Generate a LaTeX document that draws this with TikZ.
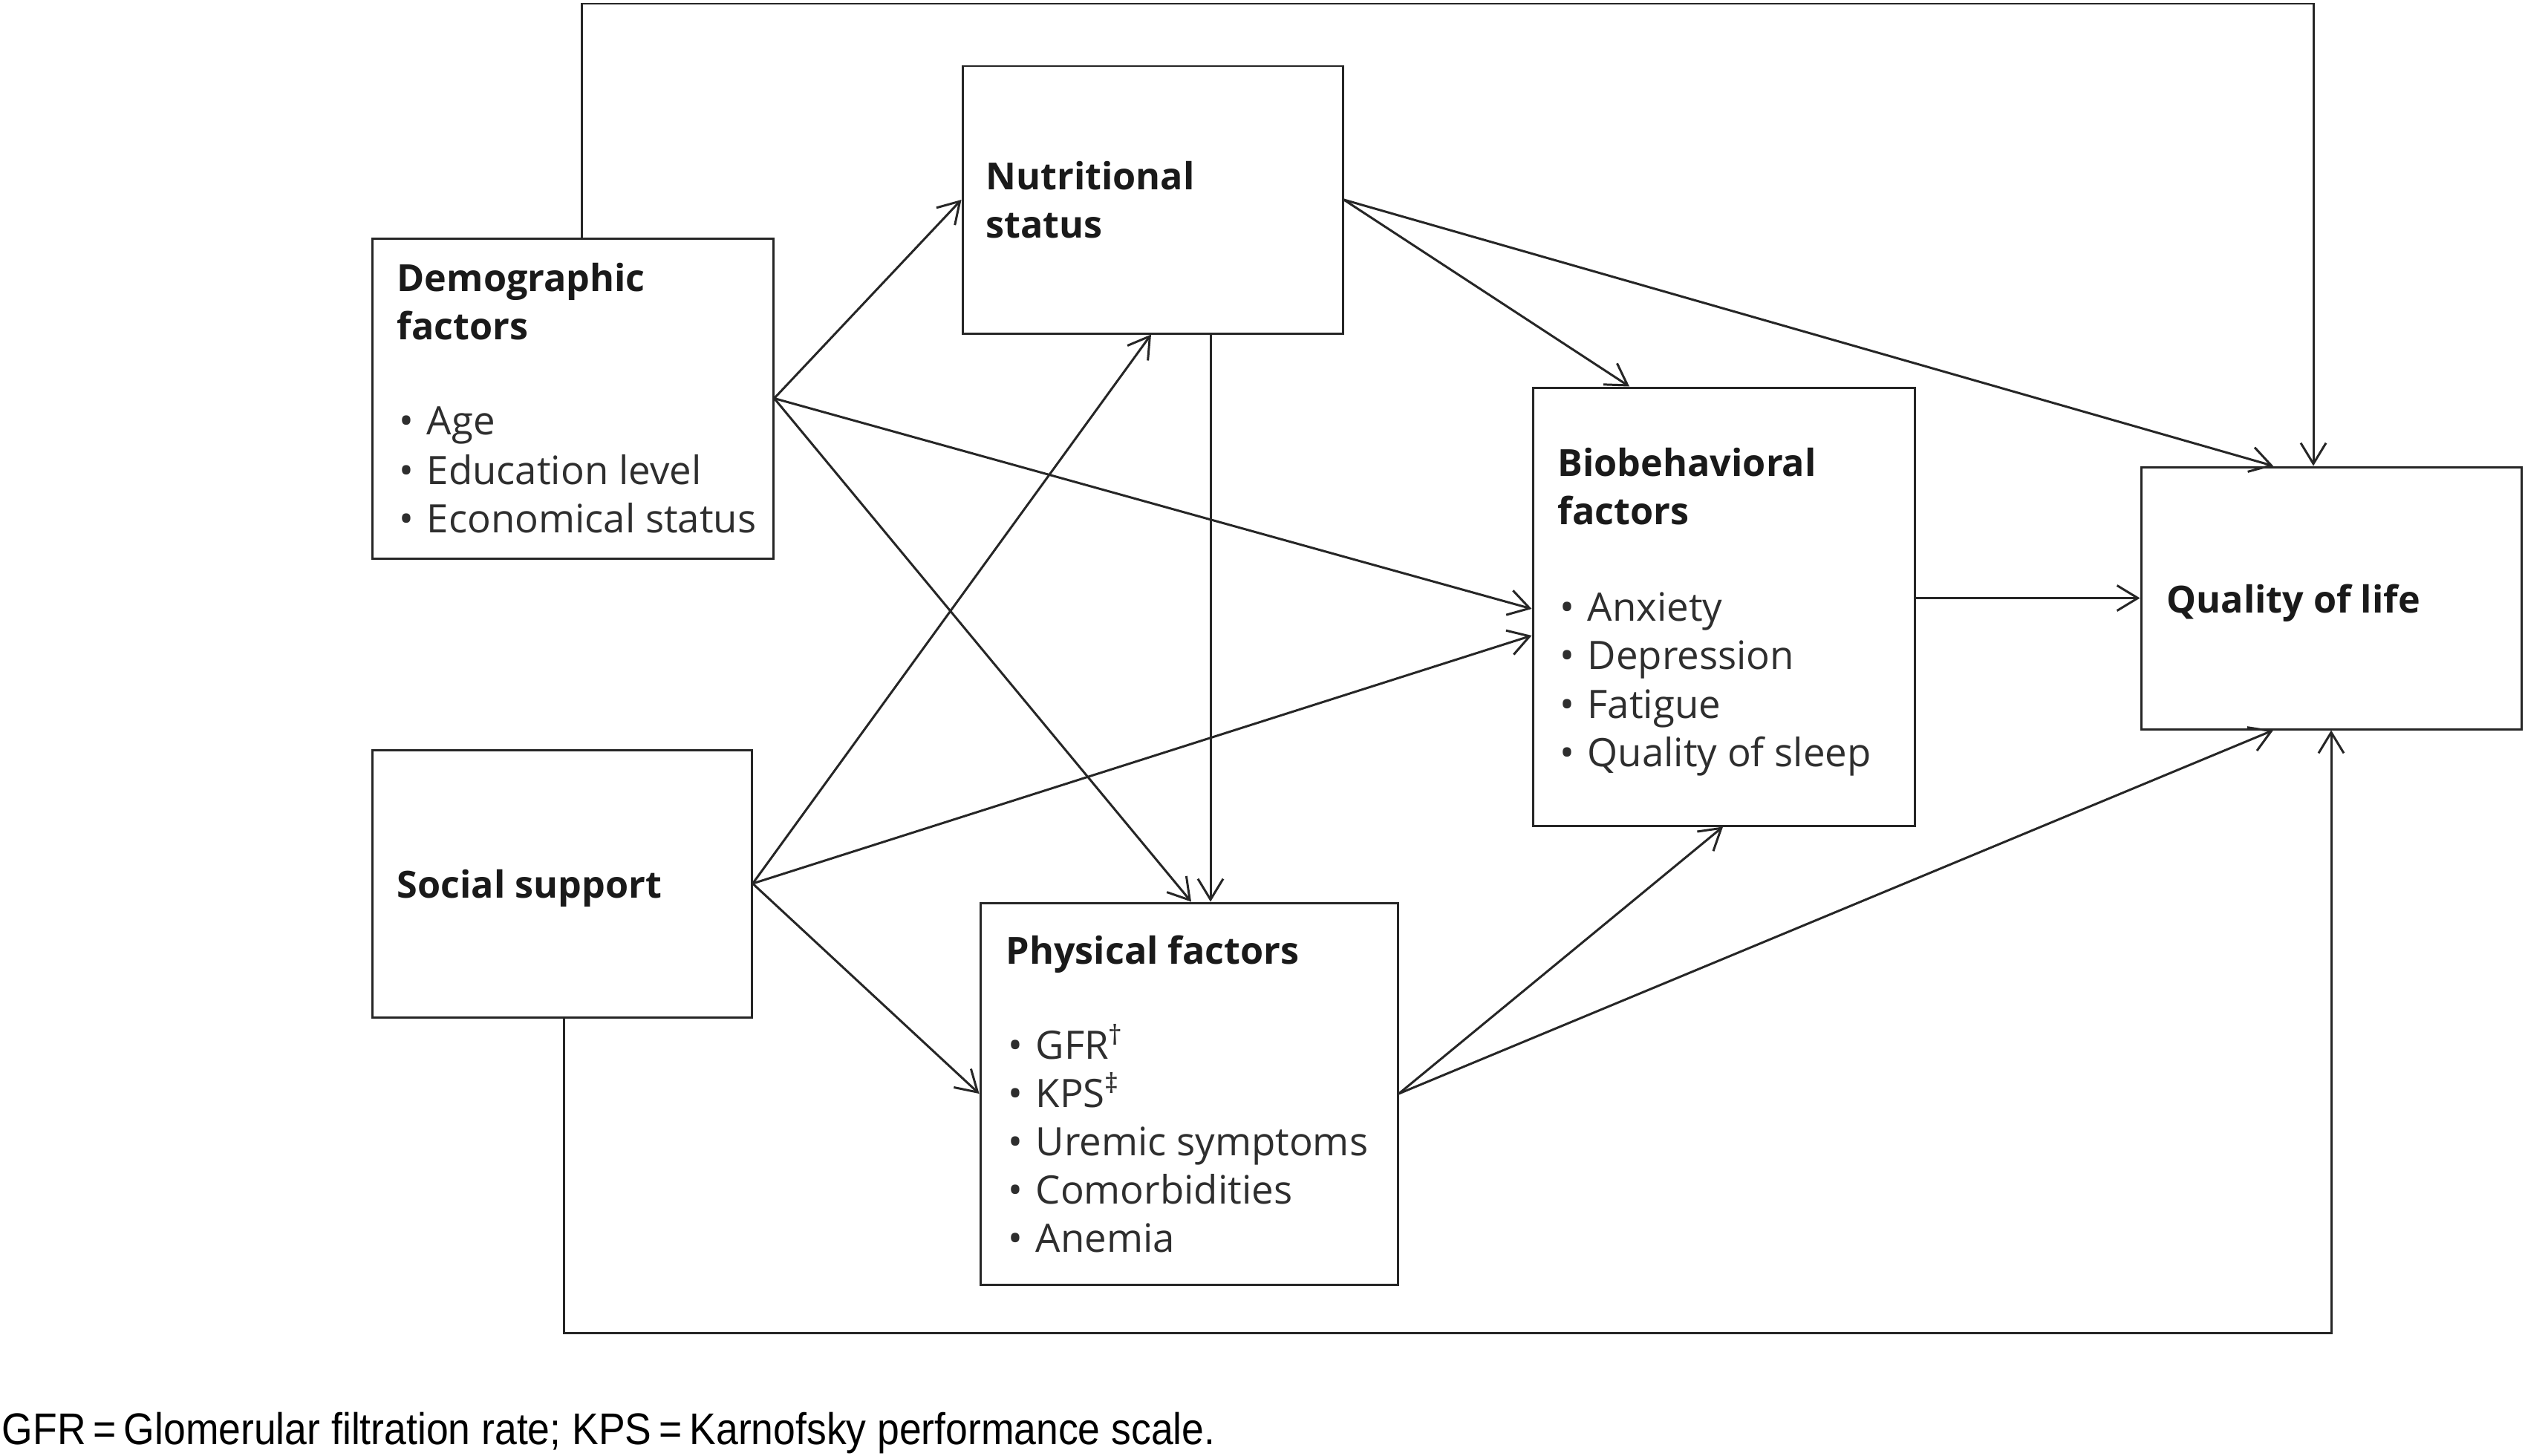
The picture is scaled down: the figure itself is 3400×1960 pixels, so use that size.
\documentclass[tikz,border=0pt]{standalone}
\usepackage{fontspec}
\setmainfont{Open Sans}
\newfontfamily\notefont[FakeStretch=0.895]{Liberation Sans}
\usetikzlibrary{arrows.meta,fit}
\definecolor{linec}{HTML}{262626}
\definecolor{txtc}{HTML}{1A1A1A}
\definecolor{itmc}{HTML}{2E2E2E}
\newcommand\bul[4]{%
  \node[itm] (#1b) at (#2,#3) {•};
  \node[itm] (#1) at ({#2+37},#3) {#4};}
\begin{document}
\begin{tikzpicture}[x=0.01cm, y=-0.01cm,
  box/.style={draw=linec, line width=0.85pt, inner sep=0pt},
  ttl/.style={anchor=base west, inner sep=0pt, font=\fontsize{14.3}{18}\selectfont\bfseries, text=txtc},
  itm/.style={anchor=base west, inner sep=0pt, font=\fontsize{15}{18}\selectfont, text=itmc},
  arr/.style={draw=linec, line width=0.85pt, -{Straight Barb[length=0.28cm, width=0.34cm, line width=0.85pt]}}]
\fill[white] (0,0) rectangle (3400,1960);
\useasboundingbox (0,0) rectangle (3400,1960);

% boxes
\node[box, fit={(501,321)(1041,752)}] (demo) {};
\node[box, fit={(1296,89)(1808,449)}] (nutr) {};
\node[box, fit={(2064,522)(2578,1112)}] (bio) {};
\node[box, fit={(2883,629)(3395,982)}] (qol) {};
\node[box, fit={(501,1010)(1012,1370)}] (soc) {};
\node[box, fit={(1320,1216)(1882,1730)}] (phys) {};

% texts
\node[ttl] (demoT1) at (534,392) {Demographic};
\node[ttl] (demoT2) at (534,457) {factors};
\bul{age}{537}{585}{Age}
\bul{edu}{537}{652}{Education level}
\bul{eco}{537}{717}{Economical status}

\node[ttl] (nutrT1) at (1327,255) {Nutritional};
\node[ttl] (nutrT2) at (1327,320) {status};

\node[ttl] (bioT1) at (2097,641) {Biobehavioral};
\node[ttl] (bioT2) at (2097,706) {factors};
\bul{anx}{2100}{836}{Anxiety}
\bul{dep}{2100}{901}{Depression}
\bul{fat}{2100}{967}{Fatigue}
\bul{slp}{2100}{1032}{Quality of sleep}

\node[ttl] (qolT) at (2917,825) {Quality of life};

\node[ttl] (socT) at (534,1209) {Social support};

\node[ttl] (physT) at (1354,1298) {Physical factors};
\bul{gfr}{1357}{1426}{GFR\textsuperscript{†}}
\bul{kps}{1357}{1491}{KPS\textsuperscript{‡}}
\bul{ure}{1357}{1556}{Uremic symptoms}
\bul{com}{1357}{1621}{Comorbidities}
\bul{ane}{1357}{1686}{Anemia}

% connector corners
\coordinate (topL) at (783,5);
\coordinate (topR) at (3115,5);
\coordinate (botR) at (3139,1795);

% connectors
\draw[arr] (demo.north -| topL) -- (topL) -- (topR) -- (qol.north -| topR);
\draw[arr] (demo.east) -- (nutr.west);
\draw[arr] (demo.east) -- (bio.west |- 0,820);
\draw[arr] (demo.east) -- (phys.north -| 1604,0);
\draw[arr] (soc.east) -- (nutr.south -| 1550,0);
\draw[arr] (soc.east) -- (bio.west |- 0,856);
\draw[arr] (soc.east) -- (phys.west);
\draw[arr] (soc.south -| 759,0) |- (botR) -- (qol.south -| botR);
\draw[arr] (nutr.south -| 1630,0) -- (phys.north -| 1630,0);
\draw[arr] (nutr.east) -- (bio.north -| 2194,0);
\draw[arr] (nutr.east) -- (qol.north -| 3061,0);
\draw[arr] (bio.east |- qol.west) -- (qol.west);
\draw[arr] (phys.east) -- (bio.south -| 2320,0);
\draw[arr] (phys.east) -- (qol.south -| 3061,0);

% footnote
\node[anchor=base west, inner sep=0pt, font=\notefont\fontsize{17}{20}\selectfont, text=black] (note) at (2,1945) {GFR\,=\,Glomerular filtration rate; KPS\,=\,Karnofsky performance scale.};
\end{tikzpicture}
\end{document}
